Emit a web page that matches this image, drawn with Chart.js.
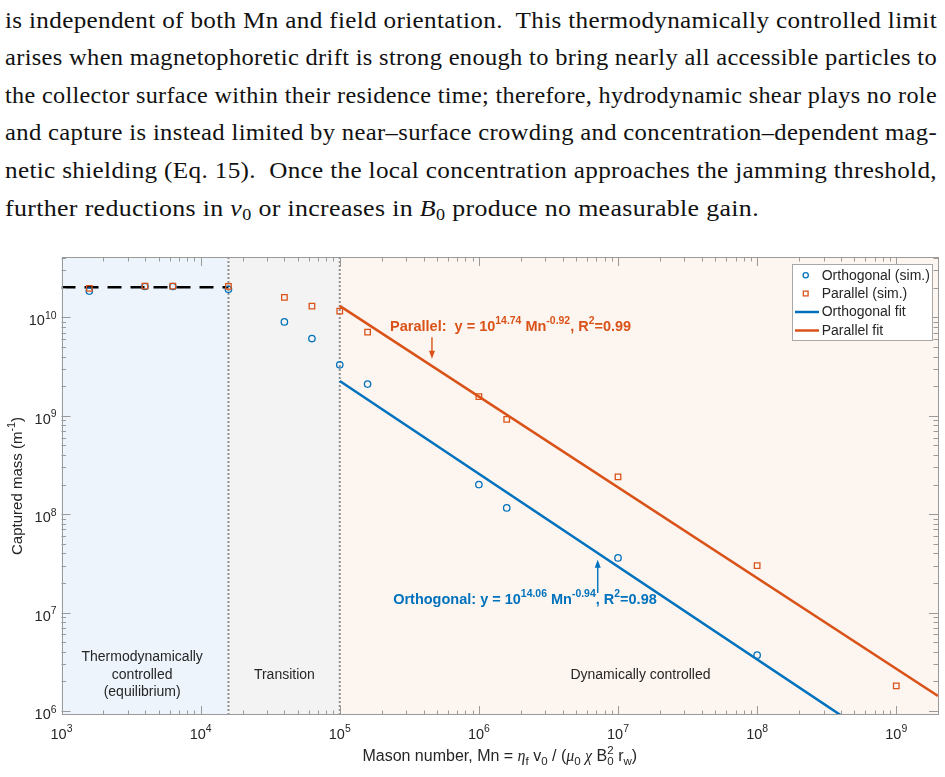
<!DOCTYPE html>
<html><head><meta charset="utf-8">
<script src="https://cdn.jsdelivr.net/npm/chart.js@4/dist/chart.umd.min.js"></script>
<style>
html,body{margin:0;padding:0;background:#fff;width:945px;height:777px;overflow:hidden;}
#para{position:absolute;left:0;top:0;width:945px;height:240px;font-family:"Liberation Serif","Times New Roman",serif;font-size:22.5px;color:#111;}
.ln{position:absolute;left:5px;line-height:22px;height:22px;white-space:nowrap;text-align:justify;text-align-last:justify;letter-spacing:0.3px;transform-origin:0 0;}
.ln.last{text-align-last:left;}
.ln sub{font-size:0.7em;vertical-align:baseline;position:relative;top:0.3em;font-style:normal;}
#wrap{position:absolute;left:0;top:240px;width:945px;height:537px;}
</style>
</head>
<body>
<div id="para">
<div class="ln" style="top:9.6px">is independent of both Mn and field orientation.&nbsp; This thermodynamically controlled limit</div>
<div class="ln" style="top:47.2px">arises when magnetophoretic drift is strong enough to bring nearly all accessible particles to</div>
<div class="ln" style="top:84.8px">the collector surface within their residence time; therefore, hydrodynamic shear plays no role</div>
<div class="ln" style="top:122.4px">and capture is instead limited by near–surface crowding and concentration–dependent mag-</div>
<div class="ln" style="top:160px">netic shielding (Eq. 15).&nbsp; Once the local concentration approaches the jamming threshold,</div>
<div class="ln last" style="top:197.6px">further reductions in <i>v</i><sub>0</sub> or increases in <i>B</i><sub>0</sub> produce no measurable gain.</div>
</div>
<div id="wrap"><canvas id="c" width="945" height="537"></canvas></div>
<script>
// ---------- data ----------
const xMin = 1e3, xMax = 1.995e9;
const yMin = 9.12e5, yMax = 4.11e10;
const xTickExps = [3, 4, 5, 6, 7, 8, 9];
const yTickExps = [6, 7, 8, 9, 10];

const orthoMn   = [1585, 3980, 6310, 15850, 40000, 63100, 1e5, 158500, 1e6, 1585000, 1e7, 1e8];
const orthoMass = [1.85e10, 2.06e10, 2.06e10, 1.93e10, 9.0e9, 6.1e9, 3.3e9, 2.1e9, 2.0e8, 1.16e8, 3.6e7, 3.7e6];

const paraMn    = [1585, 3980, 6310, 15850, 40000, 63100, 1e5, 158500, 1e6, 1585000, 1e7, 1e8, 1e9];
const paraMass  = [1.97e10, 2.08e10, 2.08e10, 2.07e10, 1.6e10, 1.3e10, 1.16e10, 7.1e9, 1.57e9, 9.2e8, 2.4e8, 3.0e7, 1.8e6];

const orthoFitMn   = [1e5, 4.0e8];
const orthoFitMass = [2.26e9, 9.05e5];
const paraFitMn    = [1e5, 1.995e9];
const paraFitMass  = [1.31e10, 1.42e6];

const eqMn   = [1e3, 15850];
const eqMass = [2.03e10, 2.03e10];

const regimeBounds = [15850, 1e5];
const regionLabels = [["Thermodynamically", "controlled", "(equilibrium)"], ["Transition"], ["Dynamically controlled"]];
const regionLabelMn = [3.8e3, 4.0e4, 1.45e7];
const regionLabelMass = 2.34e6;

const legendLabels = ["Orthogonal (sim.)", "Parallel (sim.)", "Orthogonal fit", "Parallel fit"];

// annotations: [Mn, mass] anchors
const paraNoteAt  = [2.3e5, 7.36e9];
const paraArrow   = [4.6e5, 6.3e9, 3.8e9];
const orthoNoteAt = [2.42e5, 1.23e7];
const orthoArrow  = [7.15e6, 1.58e7, 3.45e7];

// ---------- paragraph line fitting ----------
function fitLines() {
  document.querySelectorAll('.ln').forEach(el => {
    el.style.width = 'auto'; el.style.transform = 'none';
    const w = el.getBoundingClientRect().width;
    const last = el.classList.contains('last');
    let s = 1.15;
    if (!last && w * s > 932) s = 932 / w;
    el.style.transform = 'scaleX(' + s + ')';
    if (!last) el.style.width = (932 / s) + 'px';
  });
}
fitLines();
if (document.fonts && document.fonts.ready) document.fonts.ready.then(fitLines);

// ---------- style ----------
const BLUE = '#0072BD', ORANGE = '#D95319';
const regionColors = ['#EDF4FB', '#F3F3F3', '#FDF5F0'];
const AXIS = '#9a9a9a', TXT = '#262626';
const SANS = '"Liberation Sans", Arial, Helvetica, sans-serif';
const SERIF = '"Liberation Serif", "Times New Roman", serif';

function fontOf(p, size, weight) {
  const s = (p.sup || p.sub || p.ss) ? size * 0.72 : size;
  return (p.it ? 'italic ' : '') + (weight || 'normal') + ' ' + s + 'px ' + (p.serif ? SERIF : SANS);
}
function partWidth(ctx, p, size, weight) {
  ctx.font = fontOf(p, size, weight);
  if (p.ss) return Math.max(ctx.measureText(p.ss[0]).width, ctx.measureText(p.ss[1]).width);
  return ctx.measureText(p.t).width;
}
function richWidth(ctx, parts, size, weight) {
  let w = 0; for (const p of parts) w += partWidth(ctx, p, size, weight); return w;
}
function drawRich(ctx, parts, x, y, size, weight, color, align) {
  const w = richWidth(ctx, parts, size, weight);
  let cx = align === 'center' ? x - w / 2 : align === 'right' ? x - w : x;
  ctx.fillStyle = color; ctx.textBaseline = 'alphabetic'; ctx.textAlign = 'left';
  for (const p of parts) {
    ctx.font = fontOf(p, size, weight);
    const pw = partWidth(ctx, p, size, weight);
    if (p.ss) {
      ctx.fillText(p.ss[0], cx, y - size * 0.45);
      ctx.fillText(p.ss[1], cx, y + size * 0.25);
    } else {
      const dy = p.sup ? -size * 0.45 : p.sub ? size * 0.25 : 0;
      ctx.fillText(p.t, cx, y + dy);
    }
    cx += pw;
  }
}

const pts = (xs, ys) => xs.map((v, i) => ({x: v, y: ys[i]}));

const decorPlugin = {
  id: 'decor',
  beforeDatasetsDraw(chart) {
    const {ctx, chartArea: a, scales: {x}} = chart;
    const edges = [xMin, ...regimeBounds, xMax];
    ctx.save();
    for (let i = 0; i < regionColors.length; i++) {
      const x0 = x.getPixelForValue(edges[i]), x1 = x.getPixelForValue(edges[i + 1]);
      ctx.fillStyle = regionColors[i];
      ctx.fillRect(x0, a.top, x1 - x0, a.bottom - a.top);
    }
    ctx.restore();
  },
  afterDatasetsDraw(chart) {
    const {ctx, chartArea: a, scales: {x, y}} = chart;
    ctx.save();
    ctx.strokeStyle = AXIS; ctx.lineWidth = 1;
    ctx.beginPath();
    for (let e = 2; e <= 10; e++) for (let m = 1; m <= 9; m++) {
      const v = m * Math.pow(10, e);
      if (v < xMin * 0.999 || v > xMax) continue;
      const px = Math.round(x.getPixelForValue(v)) + 0.5;
      const len = m === 1 ? 9 : 4.5;
      ctx.moveTo(px, a.bottom); ctx.lineTo(px, a.bottom - len);
      ctx.moveTo(px, a.top); ctx.lineTo(px, a.top + len);
    }
    for (let e = 5; e <= 11; e++) for (let m = 1; m <= 9; m++) {
      const v = m * Math.pow(10, e);
      if (v < yMin || v > yMax) continue;
      const py = Math.round(y.getPixelForValue(v)) + 0.5;
      const len = m === 1 ? 9 : 4.5;
      ctx.moveTo(a.left, py); ctx.lineTo(a.left + len, py);
      ctx.moveTo(a.right, py); ctx.lineTo(a.right - len, py);
    }
    ctx.stroke();
    ctx.strokeRect(Math.round(a.left) + 0.5, Math.round(a.top) + 0.5, Math.round(a.right - a.left) - 1, Math.round(a.bottom - a.top) - 1);
    ctx.restore();
  },
  afterDraw(chart) {
    const {ctx, chartArea: a, scales: {x, y}} = chart;
    ctx.save();
    // tick labels
    for (const e of xTickExps) {
      const px = x.getPixelForValue(Math.pow(10, e));
      drawRich(ctx, [{t: '10'}, {t: String(e), sup: true}], px, a.bottom + 23.5, 14.5, 'normal', TXT, 'center');
    }
    for (const e of yTickExps) {
      const py = y.getPixelForValue(Math.pow(10, e));
      drawRich(ctx, [{t: '10'}, {t: String(e), sup: true}], a.left - 5, py + 8, 14.5, 'normal', TXT, 'right');
    }
    // axis titles
    drawRich(ctx, [
      {t: 'Mason number, Mn = '}, {t: 'η', it: true, serif: true}, {t: 'f', sub: true},
      {t: ' v'}, {t: '0', sub: true}, {t: ' / ('}, {t: 'μ', it: true, serif: true}, {t: '0', sub: true},
      {t: ' '}, {t: 'χ', it: true, serif: true}, {t: ' B'}, {ss: ['2', '0']}, {t: ' r'}, {t: 'w', sub: true}, {t: ')'}
    ], (a.left + a.right) / 2, a.bottom + 46, 16, 'normal', TXT, 'center');
    ctx.save();
    ctx.translate(22, (a.top + a.bottom) / 2);
    ctx.rotate(-Math.PI / 2);
    drawRich(ctx, [{t: 'Captured mass (m'}, {t: '-1', sup: true}, {t: ')'}], 0, 0, 15, 'normal', TXT, 'center');
    ctx.restore();
    // region labels
    ctx.font = 'normal 14px ' + SANS; ctx.fillStyle = TXT; ctx.textAlign = 'center'; ctx.textBaseline = 'middle';
    const cy = y.getPixelForValue(regionLabelMass);
    regionLabels.forEach((lines, i) => {
      const px = x.getPixelForValue(regionLabelMn[i]);
      const h = 17.5;
      lines.forEach((s, j) => ctx.fillText(s, px, cy + (j - (lines.length - 1) / 2) * h));
    });
    // annotations
    drawRich(ctx, [{t: 'Parallel:  y = 10'}, {t: '14.74', sup: true}, {t: ' Mn'}, {t: '-0.92', sup: true}, {t: ', R'}, {t: '2', sup: true}, {t: '=0.99'}],
      x.getPixelForValue(paraNoteAt[0]), y.getPixelForValue(paraNoteAt[1]), 14.5, 'bold', ORANGE, 'left');
    drawRich(ctx, [{t: 'Orthogonal: y = 10'}, {t: '14.06', sup: true}, {t: ' Mn'}, {t: '-0.94', sup: true}, {t: ', R'}, {t: '2', sup: true}, {t: '=0.98'}],
      x.getPixelForValue(orthoNoteAt[0]), y.getPixelForValue(orthoNoteAt[1]), 14.5, 'bold', BLUE, 'left');
    function arrow(xv, y0v, y1v, color) {
      const px = x.getPixelForValue(xv), p0 = y.getPixelForValue(y0v), p1 = y.getPixelForValue(y1v);
      const dir = Math.sign(p1 - p0);
      ctx.strokeStyle = color; ctx.fillStyle = color; ctx.lineWidth = 1.4;
      ctx.beginPath(); ctx.moveTo(px, p0); ctx.lineTo(px, p1 - dir * 6); ctx.stroke();
      ctx.beginPath(); ctx.moveTo(px, p1); ctx.lineTo(px - 3, p1 - dir * 8); ctx.lineTo(px + 3, p1 - dir * 8); ctx.closePath(); ctx.fill();
    }
    arrow(paraArrow[0], paraArrow[1], paraArrow[2], ORANGE);
    arrow(orthoArrow[0], orthoArrow[1], orthoArrow[2], BLUE);
    // legend
    const lw = 139.5, lh = 76, lx = a.right - 145.7, ly = a.top + 7;
    ctx.fillStyle = '#ffffff'; ctx.fillRect(lx, ly, lw, lh);
    ctx.strokeStyle = '#a8a8a8'; ctx.lineWidth = 1;
    ctx.strokeRect(Math.round(lx) + 0.5, Math.round(ly) + 0.5, Math.round(lw), Math.round(lh));
    const rows = [11.3, 29.5, 48, 66.5];
    ctx.font = 'normal 14px ' + SANS; ctx.textAlign = 'left'; ctx.textBaseline = 'middle';
    legendLabels.forEach((s, i) => {
      const ry = ly + rows[i];
      ctx.lineWidth = 1.3;
      if (i === 0) { ctx.strokeStyle = BLUE; ctx.beginPath(); ctx.arc(lx + 13.4, ry, 2.6, 0, Math.PI * 2); ctx.stroke(); }
      if (i === 1) { ctx.strokeStyle = ORANGE; ctx.strokeRect(lx + 11, ry - 2.4, 4.8, 4.8); }
      if (i >= 2) { ctx.strokeStyle = i === 2 ? BLUE : ORANGE; ctx.lineWidth = 2.5; ctx.beginPath(); ctx.moveTo(lx + 2.7, ry); ctx.lineTo(lx + 26.7, ry); ctx.stroke(); }
      ctx.fillStyle = TXT; ctx.fillText(s, lx + 29.4, ry + 0.5);
    });
    ctx.restore();
  }
};

new Chart(document.getElementById('c'), {
  type: 'scatter',
  data: {
    datasets: [
      {label: legendLabels[1], data: pts(paraMn, paraMass), pointStyle: 'rect', pointRadius: 3.9, borderColor: ORANGE, backgroundColor: 'rgba(0,0,0,0)', borderWidth: 1.3, order: 1},
      {label: legendLabels[0], data: pts(orthoMn, orthoMass), pointStyle: 'circle', pointRadius: 3.2, borderColor: BLUE, backgroundColor: 'rgba(0,0,0,0)', borderWidth: 1.3, order: 2},
      {label: legendLabels[2], data: pts(orthoFitMn, orthoFitMass), showLine: true, pointRadius: 0, borderColor: BLUE, borderWidth: 2.5, order: 3},
      {label: legendLabels[3], data: pts(paraFitMn, paraFitMass), showLine: true, pointRadius: 0, borderColor: ORANGE, borderWidth: 2.5, order: 3},
      {label: 'equilibrium', data: pts(eqMn, eqMass), showLine: true, pointRadius: 0, borderColor: '#000000', borderWidth: 2.5, borderDash: [14, 9], order: 4},
      {label: 'b1', data: pts([regimeBounds[0], regimeBounds[0]], [yMin, yMax]), showLine: true, pointRadius: 0, borderColor: '#8f8f8f', borderWidth: 2, borderDash: [2, 2], order: 5},
      {label: 'b2', data: pts([regimeBounds[1], regimeBounds[1]], [yMin, yMax]), showLine: true, pointRadius: 0, borderColor: '#8f8f8f', borderWidth: 2, borderDash: [2, 2], order: 5}
    ]
  },
  options: {
    responsive: false, animation: false, devicePixelRatio: 1,
    layout: {padding: {top: 17, right: 7, left: 0, bottom: 0}},
    plugins: {legend: {display: false}, tooltip: {enabled: false}},
    scales: {
      x: {type: 'logarithmic', min: xMin, max: xMax, grid: {display: false}, border: {display: false}, ticks: {display: false},
          afterFit: s => { s.height = 62; }},
      y: {type: 'logarithmic', min: yMin, max: yMax, grid: {display: false}, border: {display: false}, ticks: {display: false},
          afterFit: s => { s.width = 61.5; }}
    }
  },
  plugins: [decorPlugin]
});
</script>
</body></html>
